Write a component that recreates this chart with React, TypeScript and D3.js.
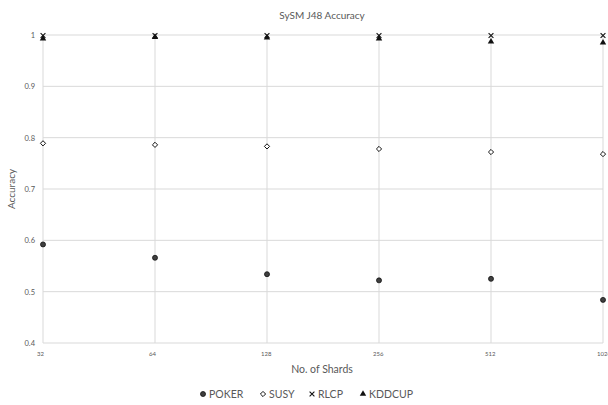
import React from "react";
import * as d3 from "d3";

const categories = ["32", "64", "128", "256", "512", "1024"];
const poker = [0.592, 0.566, 0.534, 0.522, 0.525, 0.484];
const susy = [0.789, 0.786, 0.783, 0.778, 0.772, 0.768];
const rlcp = [0.999, 0.999, 0.999, 0.999, 0.999, 0.999];
const kddcup = [0.993, 0.996, 0.995, 0.993, 0.987, 0.985];
const yTicks = [0.4, 0.5, 0.6, 0.7, 0.8, 0.9, 1];
const seriesNames = ["POKER", "SUSY", "RLCP", "KDDCUP"];

const W = 608, H = 405;
const left = 43, right = 603, top = 35, bottom = 343;
const font = "Lato, 'Open Sans', sans-serif";
const textColor = "#595959";
const grid = "#d9d9d9";

function Marker({ kind, x, y }: { kind: number; x: number; y: number }) {
  if (kind === 0) return <circle cx={x} cy={y} r={2.5} fill="#3f3f3f" stroke="#111" strokeWidth={0.8} />;
  if (kind === 1) {
    const r = 2.6;
    return (
      <path d={`M${x},${y - r}L${x + r},${y}L${x},${y + r}L${x - r},${y}Z`} fill="#fff" stroke="#111" strokeWidth={1} />
    );
  }
  if (kind === 2) {
    const r = 2.4;
    return (
      <path d={`M${x - r},${y - r}L${x + r},${y + r}M${x - r},${y + r}L${x + r},${y - r}`} stroke="#111" strokeWidth={1.1} />
    );
  }
  const s = d3.symbol(d3.symbolTriangle, 18)();
  return <path d={s!} transform={`translate(${x},${y})`} fill="#111" />;
}

export default function App() {
  const x = d3.scalePoint<string>().domain(categories).range([left, right]);
  const y = d3.scaleLinear().domain([0.4, 1]).range([bottom, top]);
  const data = [poker, susy, rlcp, kddcup];
  const legendItems = [
    { x: 203, label: "POKER" },
    { x: 263, label: "SUSY" },
    { x: 312, label: "RLCP" },
    { x: 363, label: "KDDCUP" },
  ];
  return (
    <svg width={W} height={H} style={{ position: "absolute", left: 0, top: 0, background: "#fff" }}>
      <rect width={W} height={H} fill="#fff" />
      <text x={322} y={19} textAnchor="middle" fontFamily={font} fontSize={10} fill={textColor}>
        SySM J48 Accuracy
      </text>
      {yTicks.map((t) => (
        <g key={t}>
          <line x1={left} x2={right} y1={y(t)} y2={y(t)} stroke={grid} strokeWidth={1} />
          <text x={35} y={y(t) + 3} textAnchor="end" fontFamily={font} fontSize={7.5} fill={textColor}>
            {t === 1 ? "1" : d3.format(".1f")(t)}
          </text>
        </g>
      ))}
      {categories.map((c) => (
        <g key={c}>
          <line x1={x(c)} x2={x(c)} y1={top} y2={bottom} stroke={grid} strokeWidth={1} />
          <text x={x(c)! - 6} y={356} textAnchor="start" fontFamily={font} fontSize={6} fill={textColor}>
            {c}
          </text>
        </g>
      ))}
      <text
        transform={`translate(15,${(top + bottom) / 2}) rotate(-90)`}
        textAnchor="middle"
        fontFamily={font}
        fontSize={10}
        fill={textColor}
      >
        Accuracy
      </text>
      <text x={322} y={373} textAnchor="middle" fontFamily={font} fontSize={10.5} fill={textColor}>
        No. of Shards
      </text>
      {data.map((s, k) =>
        s.map((v, i) => <Marker key={`${k}-${i}`} kind={k} x={x(categories[i])!} y={y(v)} />)
      )}
      {legendItems.map((l, k) => (
        <g key={l.label}>
          <Marker kind={k} x={l.x} y={394} />
          <text x={l.x + 6} y={398} fontFamily={font} fontSize={10.5} fill={textColor}>
            {seriesNames[k]}
          </text>
        </g>
      ))}
    </svg>
  );
}
